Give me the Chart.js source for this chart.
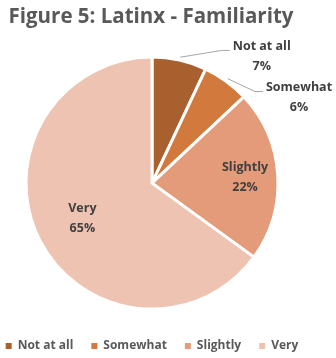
<!DOCTYPE html>
<html>
<head>
<meta charset="utf-8">
<script src="https://cdn.jsdelivr.net/npm/chart.js@4/dist/chart.umd.min.js"></script>
<style>
  html, body { margin: 0; padding: 0; background: #fff; }
  canvas { display: block; }
</style>
</head>
<body>
<canvas id="grafico" width="336" height="358"></canvas>
<script>
// Dados
const categorias = ['Not at all', 'Somewhat', 'Slightly', 'Very'];
const percentuais = [7, 6, 22, 65];
const cores = ['#A8602F', '#D27A3E', '#E39B79', '#EEC3B2'];

// Posição dos rótulos: dentro da fatia (fator do raio) ou fora com linha guia
const rotulosFora = [true, true, false, false];
const rotuloAngulo = [40.9, 59.8, null, null];   // graus a partir do topo, só para os de fora
const rotuloRaio = [1.33, 1.35, 0.74, 0.62];

const corTexto = '#404040';
const fonte = '"Open Sans", Lato, sans-serif';

/** Desenha os rótulos de dados (categoria + %) com linhas guia quando ficam fora. */
const rotulosPlugin = {
    id: 'rotulos',
    afterDatasetsDraw(chart) {
        const ctx = chart.ctx;
        const meta = chart.getDatasetMeta(0);
        ctx.save();
        ctx.font = `bold 12.5px ${fonte}`;
        ctx.fillStyle = corTexto;
        ctx.textAlign = 'center';
        ctx.textBaseline = 'middle';
        meta.data.forEach((arc, i) => {
            const { x, y, startAngle, endAngle, outerRadius } = arc.getProps(['x', 'y', 'startAngle', 'endAngle', 'outerRadius'], true);
            const meio = (startAngle + endAngle) / 2;
            let ang = meio;
            if (rotulosFora[i]) ang = rotuloAngulo[i] * Math.PI / 180 - Math.PI / 2;
            const cx = x + Math.cos(ang) * outerRadius * rotuloRaio[i];
            const cy = y + Math.sin(ang) * outerRadius * rotuloRaio[i];
            const linha1 = categorias[i];
            const linha2 = `${percentuais[i]}%`;
            ctx.fillText(linha1, cx, cy - 10);
            ctx.fillText(linha2, cx, cy + 10);

            if (rotulosFora[i]) {
                const w = ctx.measureText(linha1).width;
                const x0 = x + Math.cos(meio) * (outerRadius + 3);
                const y0 = y + Math.sin(meio) * (outerRadius + 3);
                const xFim = cx - w / 2 - 3;
                const yFim = cy - 6;
                ctx.strokeStyle = '#A6A6A6';
                ctx.lineWidth = 1;
                ctx.beginPath();
                ctx.moveTo(x0, y0);
                ctx.lineTo(xFim - 8, yFim);
                ctx.lineTo(xFim, yFim);
                ctx.stroke();
            }
        });
        ctx.restore();
    }
};

/** Ajusta a área da pizza (deslocada para a esquerda), o título e a legenda. */
const ajustePlugin = {
    id: 'ajuste',
    afterLayout(chart) {
        const area = chart.chartArea;
        area.right = area.left + 304;
        area.bottom = area.top + 255;
        area.width = area.right - area.left;
        area.height = area.bottom - area.top;
        chart.titleBlock.left -= 17;
        chart.titleBlock.right -= 17;
        chart.legend.left -= 16;
        chart.legend.right -= 16;
        chart.legend.top += 4;
        chart.legend.bottom += 4;
    }
};

const gerarLegenda = Chart.overrides.pie.plugins.legend.labels.generateLabels;

new Chart(document.getElementById('grafico'), {
    type: 'pie',
    data: {
        labels: categorias,
        datasets: [{
            data: percentuais,
            backgroundColor: cores,
            borderColor: '#FFFFFF',
            borderWidth: 3
        }]
    },
    options: {
        responsive: false,
        animation: false,
        layout: { padding: 0 },
        plugins: {
            title: {
                display: true,
                text: 'Figure 5: Latinx - Familiarity',
                color: '#595959',
                font: { family: fonte, size: 20.5, weight: 'bold' },
                padding: { top: 5, bottom: 26 }
            },
            legend: {
                position: 'bottom',
                labels: {
                    color: '#595959',
                    font: { family: fonte, size: 12, weight: 'bold' },
                    boxWidth: 6,
                    boxHeight: 6,
                    padding: 18,
                    generateLabels: chart => gerarLegenda(chart).map(item => ({ ...item, lineWidth: 0, strokeStyle: 'transparent' }))
                }
            },
            tooltip: { enabled: false }
        }
    },
    plugins: [rotulosPlugin, ajustePlugin]
});
</script>
</body>
</html>
